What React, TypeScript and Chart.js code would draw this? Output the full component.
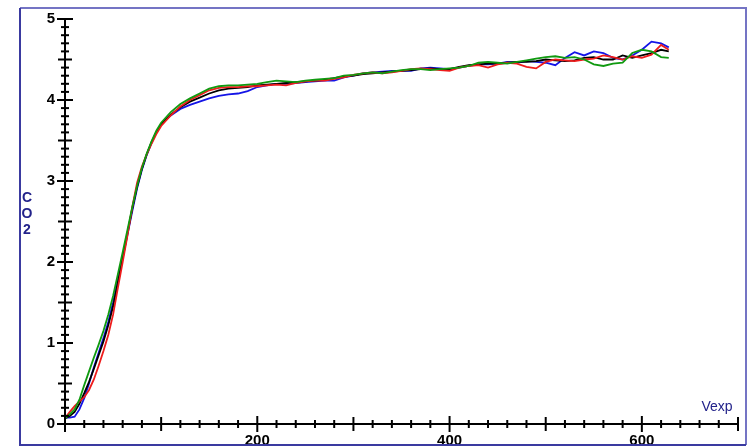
import React, { useEffect, useRef } from "react";
import { Chart, registerables } from "chart.js";

Chart.register(...registerables);

const vexp = [0,5,10,15,20,25,30,35,40,45,50,55,60,65,70,75,80,85,90,95,100,110,120,130,140,150,160,170,180,190,200,210,220,230,240,250,260,270,280,290,300,310,320,330,340,350,360,370,380,390,400,410,420,430,440,450,460,470,480,490,500,510,520,530,540,550,560,570,580,590,600,610,620,628];

const co2Black = [0.07,0.10,0.15,0.25,0.38,0.52,0.68,0.85,1.02,1.22,1.45,1.75,2.05,2.36,2.66,2.93,3.15,3.33,3.48,3.60,3.70,3.82,3.91,3.98,4.03,4.08,4.12,4.14,4.15,4.16,4.18,4.19,4.20,4.21,4.22,4.23,4.24,4.25,4.27,4.29,4.30,4.32,4.33,4.34,4.35,4.36,4.37,4.38,4.39,4.38,4.38,4.41,4.43,4.44,4.45,4.45,4.46,4.47,4.47,4.48,4.50,4.49,4.48,4.49,4.52,4.53,4.50,4.50,4.55,4.52,4.55,4.58,4.62,4.60];

const co2Red = [0.07,0.15,0.22,0.28,0.33,0.42,0.55,0.72,0.90,1.10,1.35,1.68,2.00,2.33,2.68,2.98,3.18,3.33,3.46,3.58,3.68,3.81,3.92,4.00,4.06,4.12,4.15,4.16,4.16,4.17,4.17,4.18,4.19,4.18,4.21,4.23,4.24,4.24,4.26,4.28,4.31,4.33,4.34,4.33,4.34,4.36,4.38,4.39,4.38,4.37,4.36,4.40,4.42,4.43,4.40,4.44,4.46,4.45,4.41,4.39,4.47,4.50,4.49,4.48,4.50,4.51,4.55,4.53,4.50,4.54,4.52,4.56,4.68,4.62];

const co2Green = [0.07,0.12,0.18,0.30,0.48,0.65,0.82,0.98,1.15,1.35,1.58,1.85,2.12,2.40,2.68,2.94,3.16,3.34,3.49,3.62,3.72,3.85,3.95,4.02,4.08,4.14,4.17,4.18,4.18,4.19,4.20,4.22,4.24,4.23,4.22,4.24,4.25,4.26,4.27,4.30,4.31,4.33,4.34,4.33,4.35,4.37,4.38,4.38,4.37,4.38,4.39,4.40,4.42,4.46,4.47,4.46,4.45,4.47,4.49,4.51,4.53,4.54,4.52,4.53,4.50,4.44,4.42,4.45,4.46,4.58,4.62,4.60,4.53,4.52];

const co2Blue = [0.08,0.08,0.09,0.18,0.32,0.50,0.70,0.88,1.06,1.26,1.50,1.78,2.05,2.34,2.63,2.91,3.14,3.32,3.47,3.60,3.70,3.81,3.89,3.94,3.98,4.02,4.05,4.07,4.08,4.11,4.16,4.18,4.20,4.20,4.21,4.22,4.23,4.24,4.24,4.28,4.30,4.33,4.34,4.35,4.36,4.36,4.36,4.39,4.40,4.39,4.38,4.40,4.42,4.44,4.44,4.45,4.47,4.46,4.48,4.47,4.46,4.43,4.52,4.59,4.55,4.60,4.58,4.52,4.50,4.55,4.62,4.72,4.70,4.65];

const xLabels = [200, 400, 600];
const yLabels = [0, 1, 2, 3, 4, 5];
const xTitle = "Vexp";
const yTitle = ["C", "O", "2"];

const toPoints = (ys: number[]) => vexp.map((v, i) => ({ x: v, y: ys[i] }));

const axesPlugin = {
  id: "customAxes",
  afterDatasetsDraw(chart: any) {
    const ctx = chart.ctx;
    const xs = chart.scales.x;
    const ys = chart.scales.y;
    const x0 = xs.getPixelForValue(0);
    const y0 = ys.getPixelForValue(0);
    ctx.save();
    ctx.strokeStyle = "#000";
    ctx.lineWidth = 2;
    ctx.beginPath();
    ctx.moveTo(x0, ys.getPixelForValue(5));
    ctx.lineTo(x0, y0);
    ctx.lineTo(xs.getPixelForValue(700), y0);
    ctx.stroke();
    for (let i = 0; i <= 50; i++) {
      const y = ys.getPixelForValue(i / 10);
      const h = i % 10 === 0 ? 8 : i % 5 === 0 ? 7 : 4;
      ctx.beginPath();
      ctx.moveTo(x0 - h, y);
      ctx.lineTo(x0 + h, y);
      ctx.stroke();
    }
    for (let v = 0; v <= 700; v += 20) {
      const x = xs.getPixelForValue(v);
      const h = v % 200 === 0 ? 8 : v % 100 === 0 ? 7 : 4;
      ctx.beginPath();
      ctx.moveTo(x, y0 - h);
      ctx.lineTo(x, y0 + h);
      ctx.stroke();
    }
    ctx.fillStyle = "#22228a";
    ctx.textAlign = "center";
    ctx.textBaseline = "middle";
    ctx.font = "bold 14px 'Liberation Sans', Arial, sans-serif";
    yTitle.forEach((t, i) => ctx.fillText(t, 27, 198 + i * 16));
    ctx.font = "14px 'Liberation Sans', Arial, sans-serif";
    ctx.fillText(xTitle, 717, 407);
    ctx.lineWidth = 2;
    ctx.strokeStyle = "#7474c4";
    ctx.beginPath();
    ctx.moveTo(20, 8);
    ctx.lineTo(746, 8);
    ctx.lineTo(746, 445);
    ctx.stroke();
    ctx.strokeStyle = "#3a3aa0";
    ctx.beginPath();
    ctx.moveTo(20, 8);
    ctx.lineTo(20, 445);
    ctx.lineTo(746, 445);
    ctx.stroke();
    ctx.restore();
  },
};

export default function App() {
  const ref = useRef<HTMLCanvasElement | null>(null);
  useEffect(() => {
    if (!ref.current) return;
    const ds = (label: string, data: number[], color: string) => ({
      label,
      data: toPoints(data),
      borderColor: color,
      backgroundColor: color,
      borderWidth: 1.8,
      pointRadius: 0,
      tension: 0,
      fill: false,
    });
    const tickFont = { family: "'Liberation Sans', Arial, sans-serif", size: 15, weight: "bold" as const };
    const chart = new Chart(ref.current, {
      type: "line",
      data: {
        datasets: [
          ds("green", co2Green, "#109a10"),
          ds("red", co2Red, "#ee1c1c"),
          ds("black", co2Black, "#000000"),
          ds("blue", co2Blue, "#1414e6"),
        ],
      },
      plugins: [axesPlugin],
      options: {
        animation: false,
        responsive: false,
        layout: { padding: { left: 0, top: 9, right: 10, bottom: 0 } },
        plugins: { legend: { display: false }, tooltip: { enabled: false } },
        scales: {
          x: {
            type: "linear",
            min: 0,
            max: 700,
            grid: { display: false, drawTicks: false },
            border: { display: false },
            afterBuildTicks: (s: any) => {
              s.ticks = xLabels.map((v) => ({ value: v }));
            },
            afterFit: (s: any) => {
              s.height = 22;
            },
            ticks: { color: "#000", font: tickFont, padding: 8, maxRotation: 0 },
          },
          y: {
            type: "linear",
            min: 0,
            max: 5,
            grid: { display: false, drawTicks: false },
            border: { display: false },
            afterBuildTicks: (s: any) => {
              s.ticks = yLabels.map((v) => ({ value: v }));
            },
            afterFit: (s: any) => {
              s.width = 65;
            },
            ticks: { color: "#000", font: tickFont, padding: 10 },
          },
        },
      },
    });
    return () => chart.destroy();
  }, []);
  return (
    <div style={{ position: "absolute", left: 0, top: 0, width: 748, height: 446, background: "#fff" }}>
      <canvas ref={ref} width={748} height={446} style={{ display: "block" }} />
    </div>
  );
}
